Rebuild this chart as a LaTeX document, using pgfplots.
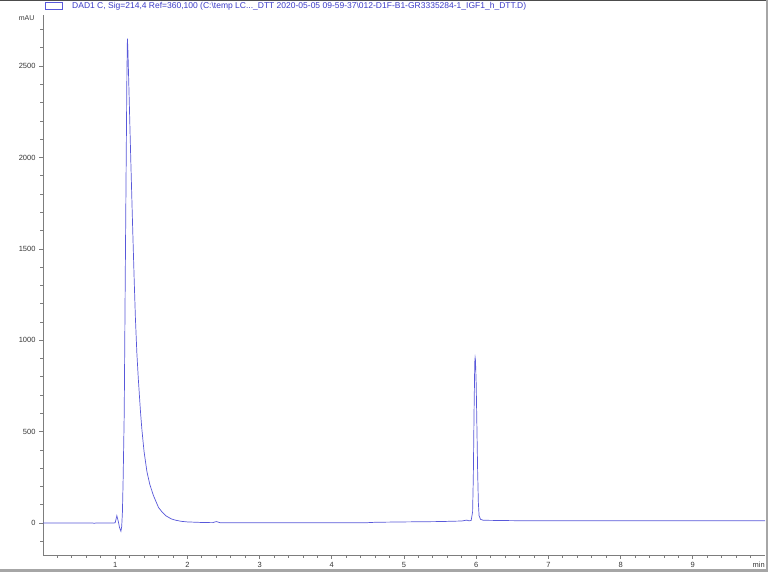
\documentclass[border=0pt]{standalone}
\usepackage{fontspec}
\setmainfont{Liberation Sans}
\usepackage{pgfplots}
\pgfplotsset{compat=1.18}

\definecolor{trace}{RGB}{88,88,218}
\definecolor{legtext}{RGB}{60,60,200}
\definecolor{axgray}{RGB}{125,125,125}
\definecolor{txt}{RGB}{55,55,55}

\pgfplotstableread{
t     mau
0     0
0.50  0
0.69  0
0.71  -2
0.73  0
0.98  0
1.00  2
1.023 40
1.045 5
1.06  -25
1.079 -45
1.09  -20
1.10  60
1.11  240
1.125 600
1.139 1330
1.152 1970
1.162 2450
1.169 2650
1.175 2600
1.19  2380
1.205 2150
1.217 1970
1.24  1640
1.263 1330
1.28  1120
1.30  930
1.32  790
1.35  610
1.37  510
1.40  390
1.44  280
1.48  210
1.53  150
1.60  85
1.65  60
1.70  40
1.78  22
1.84  15
1.92  9
2.00  6
2.20  3
2.35  2
2.40  8
2.45  2
3.00  1
4.00  1
4.50  2
4.60  4
5.00  6
5.50  8
5.80  11
5.87  16
5.90  12
5.93  14
5.95  60
5.96  250
5.97  600
5.98  880
5.985 905
5.99  890
6.00  760
6.01  520
6.02  280
6.03  110
6.04  40
6.06  20
6.10  15
6.50  13
7.00  12
8.00  12
9.00  12
10.00 12
}\chrom

\begin{document}
\begin{tikzpicture}[x=1pt,y=1pt]
\useasboundingbox (0,0) rectangle (768,572);
\fill[white] (0,0) rectangle (768,572);
% window frame
\fill[black!70] (0,571) rectangle (768,572);
\fill[black!35] (0,0) rectangle (768,3);
\fill[black!35] (766,0) rectangle (768,572);

\begin{axis}[
    at={(43pt,17pt)}, anchor=south west,
    scale only axis,
    width=722pt, height=540pt,
    xmin=0, xmax=10,
    ymin=-175, ymax=2780,
    axis x line*=bottom, axis y line*=left,
    axis line style={axgray, -, line width=0.9pt},
    xtick={1,2,...,9},
    xticklabels={1,2,3,4,5,6,7,8,9},
    minor xtick={0.2,0.4,...,9.81},
    ytick={0,500,1000,1500,2000,2500},
    yticklabels={0,500,1000,1500,2000,2500},
    minor ytick={-100,100,200,300,400,600,700,800,900,1100,1200,1300,1400,1600,1700,1800,1900,2100,2200,2300,2400,2600,2700},
    tick align=outside,
    major tick length=4pt, minor tick length=3pt,
    tick style={axgray, line width=0.8pt},
    tick label style={txt, font=\fontsize{7.5}{8}\selectfont},
    /pgf/number format/assume math mode=true,
    clip=false,
]
\addplot[trace, line width=0.7pt, mark=none] table[x=t, y=mau] {\chrom};
\end{axis}

\node[txt, font=\fontsize{7.5}{8}\selectfont, anchor=east, inner sep=0pt] at (765,7) {min};
\node[txt, font=\fontsize{7}{8}\selectfont, anchor=east] at (38,554) {mAU};
\draw[trace, line width=0.8pt] (45,563) rectangle (62,569.5);
\node[legtext, font=\fontsize{8.5}{9}\selectfont, anchor=west, inner sep=0pt] at (72,566) {DAD1 C, Sig=214,4 Ref=360,100 (C:\textbackslash temp LC...\_DTT 2020-05-05 09-59-37\textbackslash 012-D1F-B1-GR3335284-1\_IGF1\_h\_DTT.D)};
\end{tikzpicture}
\end{document}
